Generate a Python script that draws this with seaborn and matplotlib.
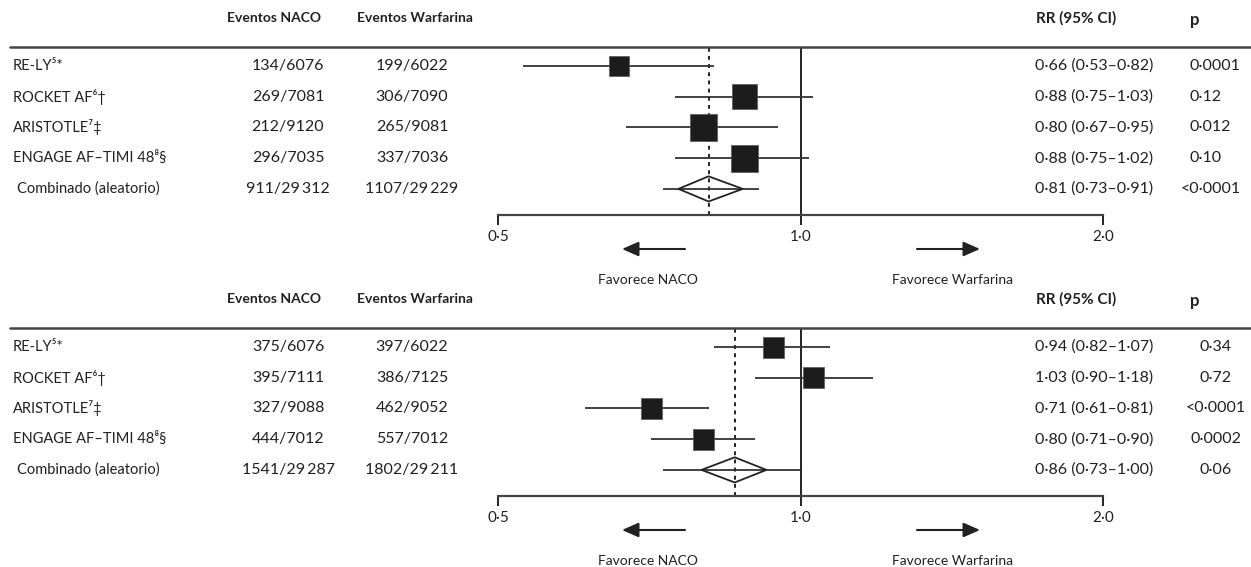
import matplotlib
matplotlib.use("Agg")
import matplotlib.pyplot as plt
from matplotlib.lines import Line2D
from matplotlib.patches import Polygon, FancyArrowPatch
from matplotlib.transforms import blended_transform_factory
import seaborn as sns

# data
studies = ["RE-LY\u2075*", "ROCKET AF\u2076\u2020", "ARISTOTLE\u2077\u2021",
           "ENGAGE AF\u2013TIMI 48\u2078\u00a7", "Combinado (aleatorio)"]

# panel 1
naco_1 = ["134/6076", "269/7081", "212/9120", "296/7035", "911/29\u2009312"]
warf_1 = ["199/6022", "306/7090", "265/9081", "337/7036", "1107/29\u2009229"]
rr_1 = [0.66, 0.88, 0.80, 0.88, 0.81]
lo_1 = [0.53, 0.75, 0.67, 0.75, 0.73]
hi_1 = [0.82, 1.03, 0.95, 1.02, 0.91]
p_1 = ["0\u00b70001", "0\u00b712", "0\u00b7012", "0\u00b710", "<0\u00b70001"]
wt_1 = [0.75, 0.93, 1.0, 1.0]
dia_1 = [0.756, 0.876]

# panel 2
naco_2 = ["375/6076", "395/7111", "327/9088", "444/7012", "1541/29\u2009287"]
warf_2 = ["397/6022", "386/7125", "462/9052", "557/7012", "1802/29\u2009211"]
rr_2 = [0.94, 1.03, 0.71, 0.80, 0.86]
lo_2 = [0.82, 0.90, 0.61, 0.71, 0.73]
hi_2 = [1.07, 1.18, 0.81, 0.90, 1.00]
p_2 = ["0\u00b734", "0\u00b772", "<0\u00b70001", "0\u00b70002", "0\u00b706"]
wt_2 = [0.78, 0.78, 0.78, 0.78]
dia_2 = [0.797, 0.925]

ticks = [0.5, 1.0, 2.0]
tick_labels = ["0\u00b75", "1\u00b70", "2\u00b70"]

sns.set_style("white")
plt.rcParams["font.family"] = ["Lato", "DejaVu Sans"]
TXT = "#231f20"

W, H = 1251, 567
fig = plt.figure(figsize=(W / 100, H / 100), dpi=100)


def fx(px):
    return px / W


def fy(py):
    return 1 - py / H


def fmt(v):
    return f"{v:.2f}".replace(".", "\u00b7")


def panel(top, bottom, naco, warf, rr, lo, hi, pvals, wt, dia, p_center):
    ax = fig.add_axes([fx(498), fy(bottom), fx(1103) - fx(498), (bottom - top) / H])
    rows = list(range(1, len(rr) + 1))
    ax.set_xscale("log")
    ax.set_xlim(0.5, 2.0)
    ax.set_ylim(5.85, 0.38)

    # CI lines
    ax.hlines(rows, lo, hi, color="#333333", lw=1.3, zorder=2)
    # study squares
    side = [(27 * w / 1.389) ** 2 for w in wt]
    sns.scatterplot(x=rr[:-1], y=rows[:-1], marker="s", s=side, color="#1c1c1c",
                    edgecolor="#555555", linewidth=0.5, ax=ax, legend=False, zorder=3)
    # pooled diamond
    yp = rows[-1]
    dh = 0.41
    ax.add_patch(Polygon([(dia[0], yp), (rr[-1], yp - dh), (dia[1], yp), (rr[-1], yp + dh)],
                         closed=True, fill=False, edgecolor="#222222", lw=1.3, zorder=3))
    ax.axvline(rr[-1], color="#222222", lw=1.4, ls=(0, (2, 2.2)), zorder=1)
    ax.axvline(1.0, color="#222222", lw=1.4, zorder=1)

    for s in ["top", "left", "right"]:
        ax.spines[s].set_visible(False)
    ax.spines["bottom"].set_color("#444444")
    ax.spines["bottom"].set_linewidth(1.6)
    ax.set_yticks([])
    ax.set_xticks(ticks)
    ax.set_xticks([], minor=True)
    ax.set_xticklabels(tick_labels, fontsize=11, color=TXT)
    ax.tick_params(axis="x", bottom=True, direction="out", length=7.5, width=1.4,
                   color="#222222", pad=3)

    # top rule across the whole table
    fig.add_artist(Line2D([fx(10), fx(1251)], [fy(top), fy(top)], transform=fig.transFigure,
                          color="#444444", lw=1.8))

    # headers
    hy = fy(top - 29)
    fig.text(fx(274), hy, "Eventos NACO", ha="center", va="center", fontsize=10,
             fontweight="bold", color=TXT)
    fig.text(fx(415), hy, "Eventos Warfarina", ha="center", va="center", fontsize=10,
             fontweight="bold", color=TXT)
    fig.text(fx(1036), hy, "RR (95% CI)", ha="left", va="center", fontsize=11,
             fontweight="bold", color=TXT)
    fig.text(fx(1190), hy - 0.004, "p", ha="left", va="center", fontsize=12,
             fontweight="bold", color=TXT)

    # row texts
    tr = blended_transform_factory(fig.transFigure, ax.transData)
    for i, y in enumerate(rows):
        x0 = 17 if i == len(rows) - 1 else 13
        fig.text(fx(x0), y, studies[i], transform=tr, ha="left", va="center",
                 fontsize=10.5, color=TXT)
        fig.text(fx(288), y, naco[i], transform=tr, ha="center", va="center",
                 fontsize=11.5, color=TXT)
        fig.text(fx(412), y, warf[i], transform=tr, ha="center", va="center",
                 fontsize=11.5, color=TXT)
        fig.text(fx(1035), y, f"{fmt(rr[i])} ({fmt(lo[i])}\u2013{fmt(hi[i])})", transform=tr,
                 ha="left", va="center", fontsize=11.5, color=TXT)
        if p_center:
            fig.text(fx(1216), y, pvals[i], transform=tr, ha="center", va="center",
                     fontsize=11.5, color=TXT)
        else:
            x_p = 1181 if pvals[i].startswith("<") else 1190
            fig.text(fx(x_p), y, pvals[i], transform=tr, ha="left", va="center",
                     fontsize=11.5, color=TXT)

    # direction arrows and captions
    ay = fy(bottom + 34)
    arrow = dict(arrowstyle="-|>,head_length=0.5,head_width=0.22", mutation_scale=20,
                 lw=1.5, color="#222222", shrinkA=0, shrinkB=0)
    fig.add_artist(FancyArrowPatch((fx(685), ay), (fx(622), ay),
                                   transform=fig.transFigure, **arrow))
    fig.add_artist(FancyArrowPatch((fx(917), ay), (fx(980), ay),
                                   transform=fig.transFigure, **arrow))
    cy = fy(bottom + 65)
    fig.text(fx(648), cy, "Favorece NACO", ha="center", va="center", fontsize=10, color=TXT)
    fig.text(fx(953), cy, "Favorece Warfarina", ha="center", va="center", fontsize=10,
             color=TXT)
    return ax


panel(47, 215, naco_1, warf_1, rr_1, lo_1, hi_1, p_1, wt_1, dia_1, False)
panel(328, 496, naco_2, warf_2, rr_2, lo_2, hi_2, p_2, wt_2, dia_2, True)

fig.savefig("out.png", dpi=100)
